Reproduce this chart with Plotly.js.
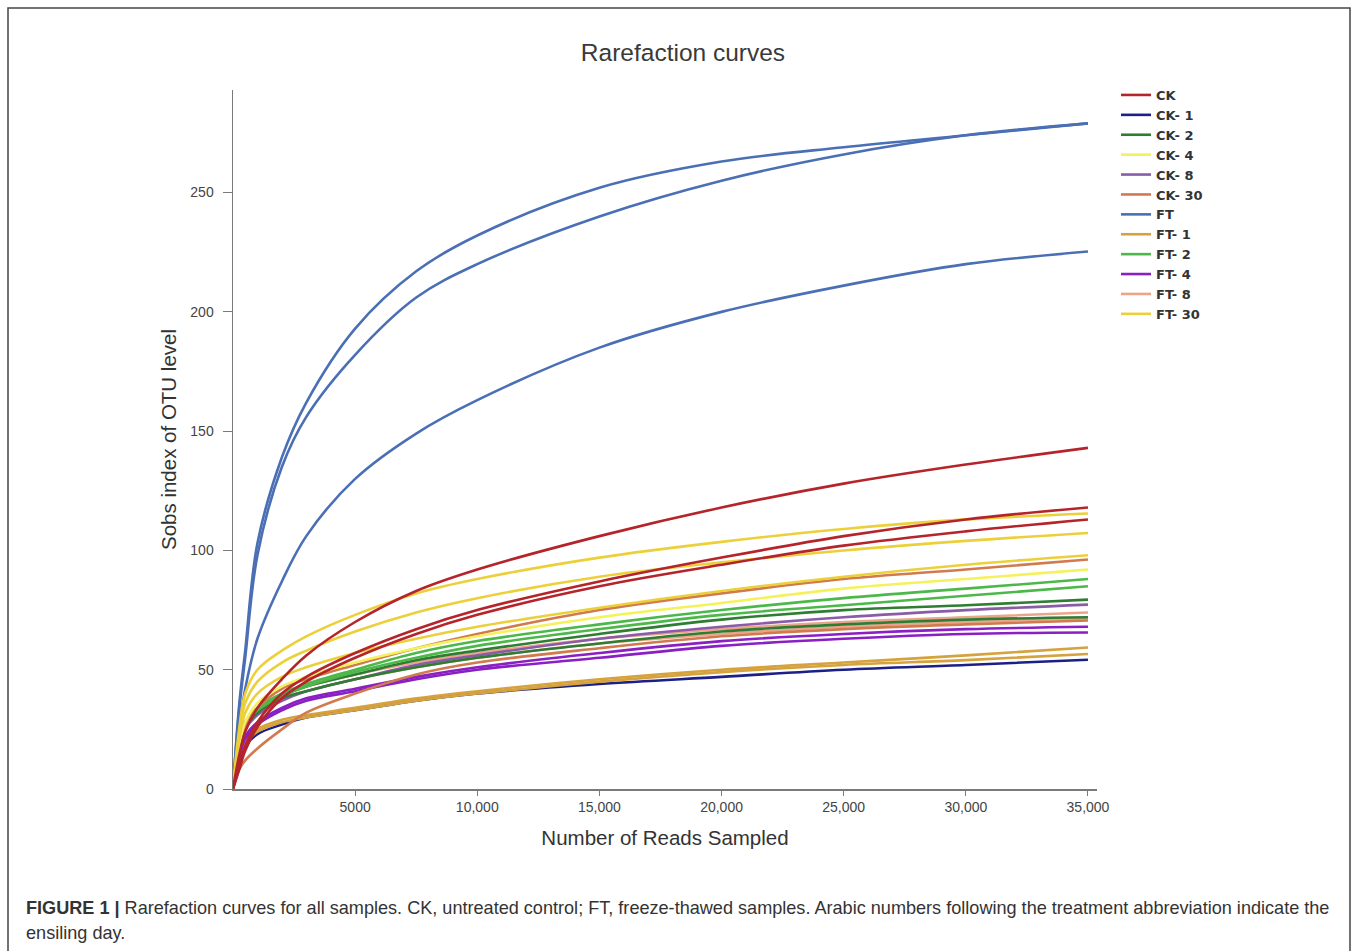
<!DOCTYPE html>
<html>
<head>
<meta charset="utf-8">
<script src="https://cdn.plot.ly/plotly-3.0.1.min.js"></script>
<style>
html,body{margin:0;padding:0;background:#fff;}
#chart{width:1358px;height:951px;}
</style>
</head>
<body>
<div id="chart"></div>
<script>
// ---- Data ----
const readsSampled = [0, 250, 500, 1000, 2000, 3000, 5000, 7500, 10000, 15000, 20000, 25000, 30000, 35000];

const groupNames = ['CK', 'CK- 1', 'CK- 2', 'CK- 4', 'CK- 8', 'CK- 30', 'FT', 'FT- 1', 'FT- 2', 'FT- 4', 'FT- 8', 'FT- 30'];

// Sobs values per sample (replicate curves)
const FT_r1  = [0, 35, 58, 103, 139, 162, 193, 217, 232, 252, 263, 269, 274, 279];
const FT_r2  = [0, 33, 55, 98, 135, 156, 182, 206, 220, 240, 255, 266, 274, 279];
const FT_r3  = [0, 25, 42, 63, 87, 106, 130, 149, 163, 185, 200, 211, 220, 225.3];

const CK_r1  = [0, 14, 24, 34, 46, 56, 70, 83, 92, 106, 118, 128, 136, 143];
const CK_r2  = [0, 10, 18, 28, 40, 47, 57, 67, 75, 87, 97, 106, 113, 118];
const CK_r3  = [0, 8, 16, 26, 38, 45, 55, 65, 73, 85, 94, 102, 108, 113];

const FT30_r1 = [0, 25, 40, 50, 58, 64, 73, 82, 88, 97, 103.6, 109, 113, 115.5];
const FT30_r2 = [0, 22, 36, 45, 53, 58, 66, 74, 80, 89, 95, 100, 104, 107.3];
const FT30_r3 = [0, 20, 32, 40, 47, 51, 57, 63, 68, 76, 83, 89, 94, 98];

const CK4_r1  = [0, 18, 28, 36, 43, 47, 53, 59, 64, 72, 78, 84, 88, 92];
const CK30_r1 = [0, 15, 26, 34, 42, 46, 52, 59, 65, 75, 82, 88, 92, 96.2];
const CK30_r2 = [0, 8, 12, 17, 25, 32, 40, 48, 53, 59, 64, 67, 69, 70.6];

const FT2_r1  = [0, 18, 28, 34, 40, 44, 50, 57, 62, 69, 75, 80, 84, 88];
const FT2_r2  = [0, 17, 27, 33, 39, 43, 49, 55, 60, 67, 73, 77, 81, 85];

const CK2_r1  = [0, 17, 27, 33, 39, 43, 48, 54, 58, 65, 71, 75, 77, 79.4];
const CK2_r2  = [0, 16, 26, 32, 38, 41, 46, 51, 55, 61, 66, 69, 71, 72];

const CK8_r1  = [0, 16, 25, 31, 37, 41, 46, 52, 56, 63, 68, 72, 75, 77.3];

const FT8_r1  = [0, 18, 28, 34, 40, 43, 48, 53, 57, 63, 67, 70, 72, 74];
const FT8_r2  = [0, 17, 26, 32, 38, 41, 46, 51, 55, 61, 65, 68, 70, 71.5];

const FT4_r1  = [0, 14, 22, 28, 34, 38, 42, 47, 51, 57, 62, 65, 67, 68];
const FT4_r2  = [0, 13, 21, 27, 33, 37, 41, 46, 50, 55, 60, 63, 65, 65.6];

const FT1_r1  = [0, 14, 20, 25, 29, 31, 34, 38, 41, 46, 50, 53, 56, 59.3];
const FT1_r2  = [0, 13, 19, 24, 28, 30, 33, 37, 40, 45, 49, 52, 54, 56.6];

const CK1_r1  = [0, 12, 18, 23, 27, 30, 33, 37, 40, 44, 47, 50, 52, 54.2];

const xTickVals = [5000, 10000, 15000, 20000, 25000, 30000, 35000];
const xTickText = ['5000', '10,000', '15,000', '20,000', '25,000', '30,000', '35,000'];
const yTickVals = [0, 50, 100, 150, 200, 250];

// ---- Styles ----
const groupColors = {
  'CK': '#b5242a', 'CK- 1': '#1c1f86', 'CK- 2': '#2e7d32', 'CK- 4': '#f4f25a',
  'CK- 8': '#8a5ba6', 'CK- 30': '#d07a4e', 'FT': '#4a6fb5', 'FT- 1': '#d6a23e',
  'FT- 2': '#4cb84a', 'FT- 4': '#8a1fc4', 'FT- 8': '#eca58c', 'FT- 30': '#ecd03a'
};

const curves = [
  ['FT', FT_r1], ['FT', FT_r2], ['FT', FT_r3],
  ['CK- 1', CK1_r1],
  ['FT- 1', FT1_r1], ['FT- 1', FT1_r2],
  ['FT- 4', FT4_r1], ['FT- 4', FT4_r2],
  ['FT- 8', FT8_r1], ['FT- 8', FT8_r2],
  ['CK- 8', CK8_r1],
  ['CK- 2', CK2_r1], ['CK- 2', CK2_r2],
  ['FT- 2', FT2_r1], ['FT- 2', FT2_r2],
  ['CK- 30', CK30_r1], ['CK- 30', CK30_r2],
  ['CK- 4', CK4_r1],
  ['FT- 30', FT30_r1], ['FT- 30', FT30_r2], ['FT- 30', FT30_r3],
  ['CK', CK_r1], ['CK', CK_r2], ['CK', CK_r3]
];

const seen = {};
const traces = curves.map(([g, vals]) => {
  const first = !seen[g];
  seen[g] = true;
  return {
    type: 'scatter', mode: 'lines',
    x: readsSampled, y: vals,
    name: g, legendgroup: g, showlegend: first,
    legendrank: groupNames.indexOf(g) + 1,
    line: {color: groupColors[g], width: 2.6, shape: 'spline', smoothing: 1},
    hoverinfo: 'skip'
  };
});

// plot area: x 233..1097, y 90..789 (pixels)
const L = 233, R = 1097, T = 90, B = 789;
const W = R - L, H = B - T;
const px = v => (v - L) / W;
const py = v => (B - v) / H;

const layout = {
  width: 1358, height: 951,
  margin: {l: L, r: 1358 - R, t: T, b: 951 - B},
  paper_bgcolor: '#ffffff', plot_bgcolor: '#ffffff',
  font: {family: 'Liberation Sans, Arial, sans-serif', color: '#333'},
  title: {text: 'Rarefaction curves', x: 683 / 1358, xanchor: 'center', y: 1 - 52 / 951, yanchor: 'middle',
          font: {size: 24.5, color: '#3a3a3a'}},
  xaxis: {
    range: [0, 35370], showgrid: false, zeroline: false,
    showline: true, linecolor: '#7a7a7a', linewidth: 1.5,
    ticks: 'outside', ticklen: 5, tickcolor: '#7a7a7a',
    tickvals: xTickVals, ticktext: xTickText,
    tickfont: {size: 14, color: '#444'},
    title: {text: 'Number of Reads Sampled', font: {size: 20.5, color: '#333'}, standoff: 16}
  },
  yaxis: {
    range: [0, 293], showgrid: false, zeroline: false,
    showline: true, linecolor: '#7a7a7a', linewidth: 1.5,
    ticks: 'outside', ticklen: 9, tickcolor: '#7a7a7a',
    tickvals: yTickVals, ticktext: yTickVals.map(String),
    ticklabelstandoff: 6,
    tickfont: {size: 14, color: '#444'},
    title: {text: 'Sobs index of OTU level', font: {size: 20.5, color: '#333'}, standoff: 8}
  },
  legend: {
    x: px(1116), y: py(80), xanchor: 'left', yanchor: 'top',
    bgcolor: 'rgba(0,0,0,0)', tracegroupgap: 0,
    font: {size: 13, color: '#333', family: 'DejaVu Sans, Liberation Sans, sans-serif', weight: 'bold'},
    itemwidth: 30
  },
  shapes: [{
    type: 'rect', xref: 'paper', yref: 'paper',
    x0: px(8), x1: px(1350), y0: py(960), y1: py(8),
    line: {color: '#444', width: 1.5}, fillcolor: 'rgba(0,0,0,0)', layer: 'below'
  }],
  annotations: [
    {xref: 'paper', yref: 'paper', x: px(24), y: py(908), xanchor: 'left', yanchor: 'middle',
     showarrow: false, align: 'left',
     text: '<b>FIGURE 1 |</b> Rarefaction curves for all samples. CK, untreated control; FT, freeze-thawed samples. Arabic numbers following the treatment abbreviation indicate the',
     font: {size: 18.1, color: '#333'}},
    {xref: 'paper', yref: 'paper', x: px(24), y: py(933), xanchor: 'left', yanchor: 'middle',
     showarrow: false, align: 'left', text: 'ensiling day.',
     font: {size: 18.1, color: '#333'}}
  ]
};

Plotly.newPlot('chart', traces, layout, {displayModeBar: false, staticPlot: true});
</script>
</body>
</html>
